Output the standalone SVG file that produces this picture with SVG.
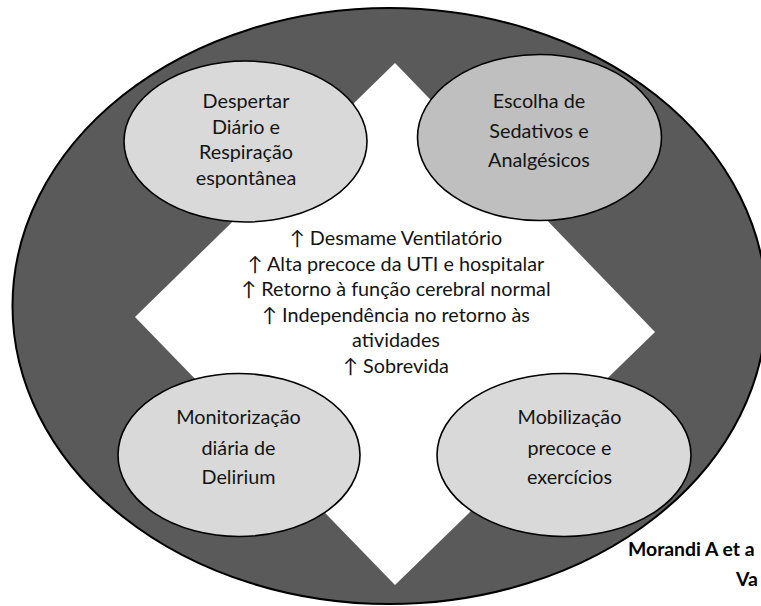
<svg xmlns="http://www.w3.org/2000/svg" width="761" height="606" viewBox="0 0 761 606">
<style>
  .bg{fill:#5a5a5a;stroke:#000;stroke-width:2}
  .node{stroke:#000;stroke-width:1.6}
  .light{fill:#d9d9d9}
  .mid{fill:#bfbfbf}
  text{font-family:Lato,"Liberation Sans",sans-serif;font-size:19.8px;fill:#141414;text-anchor:middle}
  .cite{font-weight:bold;font-size:19.4px;text-anchor:start;fill:#000}
</style>
<rect width="761" height="606" fill="#fff"/>
<g id="outer-cycle">
  <ellipse class="bg" cx="389.5" cy="306" rx="377" ry="298"/>
</g>
<g id="center">
  <polygon points="395,63 655,332 395,585 135,317" fill="#fff"/>
  <text x="396" y="245">↑ Desmame Ventilatório</text>
  <text x="396" y="270.5">↑ Alta precoce da UTI e hospitalar</text>
  <text x="396" y="296">↑ Retorno à função cerebral normal</text>
  <text x="396" y="321.5">↑ Independência no retorno às</text>
  <text x="396" y="347">atividades</text>
  <text x="396" y="372.5">↑ Sobrevida</text>
</g>
<g id="node-despertar">
  <ellipse class="node light" cx="245.5" cy="141.5" rx="121.5" ry="80.5"/>
  <text x="246" y="108">Despertar</text>
  <text x="246" y="133.5">Diário e</text>
  <text x="246" y="159">Respiração</text>
  <text x="246" y="185">espontânea</text>
</g>
<g id="node-escolha">
  <ellipse class="node mid" cx="539.5" cy="137.5" rx="122" ry="83"/>
  <text x="539" y="107.5">Escolha de</text>
  <text x="539" y="137.5">Sedativos e</text>
  <text x="539" y="166.5">Analgésicos</text>
</g>
<g id="node-monitorizacao">
  <ellipse class="node light" cx="239" cy="455" rx="121" ry="81.5"/>
  <text x="238.5" y="423.5">Monitorização</text>
  <text x="238.5" y="455">diária de</text>
  <text x="238.5" y="484">Delirium</text>
</g>
<g id="node-mobilizacao">
  <ellipse class="node light" cx="564" cy="455" rx="127" ry="81.5"/>
  <text x="569.5" y="423.5">Mobilização</text>
  <text x="569.5" y="455">precoce e</text>
  <text x="569.5" y="484">exercícios</text>
</g>
<g id="connectors"></g>
<g id="citation">
  <text class="cite" x="628" y="556">Morandi A et a</text>
  <text class="cite" x="736" y="586">Va</text>
</g>
</svg>
